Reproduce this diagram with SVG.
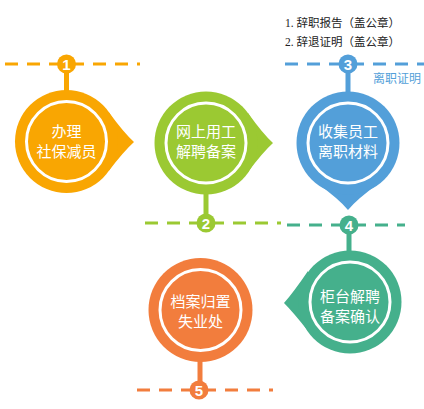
<svg xmlns="http://www.w3.org/2000/svg" width="424" height="409" viewBox="0 0 424 409">
<style>
.dash{fill:none;stroke-width:3;stroke-dasharray:13 9}
.ring{fill:none;stroke:#fff;stroke-width:3}
.lbl{font-family:"Noto Sans CJK SC","Noto Sans",sans-serif;font-size:15px;fill:#fff;text-anchor:middle}
.num{font-family:"Liberation Sans",Arial,sans-serif;font-weight:bold;font-size:15px;fill:#fff;text-anchor:middle}
.note{font-family:"Liberation Serif","Noto Sans CJK SC",serif;font-size:11.5px;fill:#222}
.o{fill:#F9A602;stroke:#F9A602}
.g{fill:#9BC932;stroke:#9BC932}
.b{fill:#539FD9;stroke:#539FD9}
.t{fill:#45B08C;stroke:#45B08C}
.r{fill:#F27D3D;stroke:#F27D3D}
</style>
<g id="connectors">
<line class="dash" x1="5" y1="64" x2="140" y2="64" stroke="#F9A602"/>
<line class="dash" x1="145" y1="223" x2="281" y2="223" stroke="#9BC932"/>
<line class="dash" x1="285" y1="64" x2="424" y2="64" stroke="#539FD9"/>
<line class="dash" x1="287" y1="225" x2="405" y2="225" stroke="#45B08C"/>
<line class="dash" x1="137" y1="390" x2="273" y2="390" stroke="#F27D3D"/>
<line x1="66.5" y1="64" x2="66.5" y2="92" stroke="#F9A602" stroke-width="5"/>
<line x1="206" y1="194" x2="206" y2="223" stroke="#9BC932" stroke-width="5"/>
<line x1="348" y1="64" x2="348" y2="94" stroke="#539FD9" stroke-width="5"/>
<line x1="349" y1="225" x2="349" y2="252" stroke="#45B08C" stroke-width="5"/>
<line x1="200" y1="361" x2="200" y2="390" stroke="#F27D3D" stroke-width="5"/>
</g>
<g id="node1">
<path class="o" stroke-width="0" d="M108.7,112 Q124,133 134,142 Q124,151 108.7,171 Z"/>
<circle class="o" cx="66.5" cy="141.5" r="51.5" stroke-width="0"/>
<circle class="ring" cx="66.5" cy="141.5" r="40"/>
<text class="lbl" x="66.5" y="137">办理</text>
<text class="lbl" x="66.5" y="157">社保减员</text>
</g>
<g id="node2">
<path class="g" stroke-width="0" d="M248,113 Q263,134 273,143 Q263,152 248,172 Z"/>
<circle class="g" cx="206" cy="143" r="51.5" stroke-width="0"/>
<circle class="ring" cx="206" cy="143" r="40"/>
<text class="lbl" x="206" y="137">网上用工</text>
<text class="lbl" x="206" y="157">解聘备案</text>
</g>
<g id="node3">
<path class="b" stroke-width="0" d="M318,184 Q339,199 348,210 Q357,199 378,184 Z"/>
<circle class="b" cx="348" cy="143" r="51.5" stroke-width="0"/>
<circle class="ring" cx="348" cy="143" r="40"/>
<text class="lbl" x="348" y="137">收集员工</text>
<text class="lbl" x="348" y="157">离职材料</text>
</g>
<g id="node4">
<path class="t" stroke-width="0" d="M308,271 Q293,293 284,303 Q293,312 308,331 Z"/>
<circle class="t" cx="350" cy="302" r="51.5" stroke-width="0"/>
<circle class="ring" cx="350" cy="302" r="40"/>
<text class="lbl" x="350" y="302">柜台解聘</text>
<text class="lbl" x="350" y="322">备案确认</text>
</g>
<g id="node5">
<circle class="r" cx="200.5" cy="310" r="52" stroke-width="0"/>
<circle class="ring" cx="200.5" cy="310" r="40.5"/>
<text class="lbl" x="200.5" y="307">档案归置</text>
<text class="lbl" x="200.5" y="327">失业处</text>
</g>
<g id="badges">
<circle class="o" cx="66.5" cy="64" r="9.5" stroke-width="0"/><text class="num" x="66.5" y="69.5">1</text>
<circle class="g" cx="206" cy="223" r="9.5" stroke-width="0"/><text class="num" x="206" y="228.5">2</text>
<circle class="b" cx="348" cy="64" r="9.5" stroke-width="0"/><text class="num" x="348" y="69.5">3</text>
<circle class="t" cx="349" cy="225" r="9.5" stroke-width="0"/><text class="num" x="349" y="230.5">4</text>
<circle class="r" cx="199" cy="390" r="9.5" stroke-width="0"/><text class="num" x="199" y="395.5">5</text>
</g>
<g id="notes">
<text class="note" x="285" y="27">1. 辞职报告（盖公章）</text>
<text class="note" x="285" y="46">2. 辞退证明（盖公章）</text>
<text x="421" y="83" text-anchor="end" style="font-family:'Noto Sans CJK SC',sans-serif;font-size:12px;fill:#539FD9">离职证明</text>
</g>
</svg>
